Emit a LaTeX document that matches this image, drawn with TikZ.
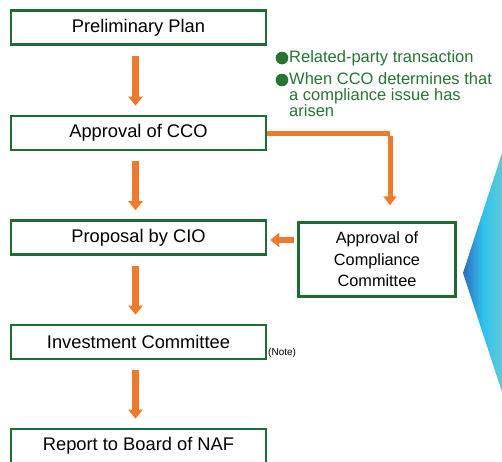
\documentclass[tikz,border=0pt]{standalone}
\usepackage{fontspec}
\setmainfont{Liberation Sans}
\usetikzlibrary{arrows.meta}
\definecolor{boxgreen}{HTML}{1E6B38}
\definecolor{txtgreen}{HTML}{267532}
\definecolor{arrorange}{HTML}{F07A2C}
\definecolor{bluedark}{HTML}{2E6CC0}
\definecolor{bluemid}{HTML}{2EC2EE}
\definecolor{bluelight}{HTML}{62C9D6}
\tikzset{
  stepbox/.style={draw=boxgreen, line width=2.6pt, fill=white, minimum width=255pt, minimum height=34pt, inner sep=0pt, font=\fontsize{18.3}{20}\selectfont},
  oarrow/.style={draw=arrorange, line width=6.5pt, -{Triangle[length=9pt,width=14pt]}},
  oline/.style={draw=arrorange, line width=5pt},
  gtext/.style={text=txtgreen, font=\fontsize{16.5}{16}\selectfont, align=left, anchor=north west, inner sep=0pt},
}
\begin{document}
\begin{tikzpicture}[x=1pt,y=-1pt]
\clip (0,0) rectangle (502,461);
\fill[white] (0,0) rectangle (502,461);
% blue shape
\shade[left color=bluedark, right color=bluelight, middle color=bluemid] (463,273) -- (503,150) -- (503,395) -- cycle;
% boxes
\node[stepbox] (pp) at (138.5,27.5) {Preliminary Plan};
\node[stepbox] (cco) at (138.5,133) {Approval of CCO};
\node[stepbox] (cio) at (138.5,237.5) {Proposal by CIO};
\node[stepbox] (ic) at (138.5,342) {Investment Committee};
\node[stepbox] (naf) at (138.5,446) {Report to Board of NAF};
\node[draw=boxgreen, line width=2.4pt, fill=white, minimum width=157pt, minimum height=74pt, inner sep=0pt, align=center, font=\fontsize{16.3}{21.5}\selectfont] (comp) at (377,259.5) {Approval of\\Compliance\\Committee};
% note
\node[anchor=west, inner sep=0pt, font=\fontsize{10}{11}\selectfont] (note) at (268,353) {(Note)};
% green bullets
\node[gtext] (b1) at (289,50) {Related-party transaction};
\node[gtext] (b2) at (289,72) {When CCO determines that\\a compliance issue has\\arisen};
\fill[txtgreen] (282,58) circle (6.3pt);
\fill[txtgreen] (282,80) circle (6.3pt);
% vertical arrows
\draw[oarrow, shorten <=10pt, shorten >=9pt] ([xshift=-3pt]pp.south) -- ([xshift=-3pt]cco.north);
\draw[oarrow, shorten <=10pt, shorten >=9pt] ([xshift=-3pt]cco.south) -- ([xshift=-3pt]cio.north);
\draw[oarrow, shorten <=10pt, shorten >=9pt] ([xshift=-3pt]cio.south) -- ([xshift=-3pt]ic.north);
\draw[oarrow, shorten <=10pt, shorten >=9pt] ([xshift=-3pt]ic.south) -- ([xshift=-3pt]naf.north);
% elbow
\coordinate (elb) at (390,133);
\draw[oline] (cco.east) -- (elb);
\draw[oline, -{Triangle[length=9pt,width=13pt]}, shorten >=16pt] ([yshift=-2.5pt]elb) -- ([xshift=13pt]comp.north);
% left arrow
\draw[oarrow, line width=6pt, shorten <=3pt, shorten >=3pt] (comp.west |- 0,240) -- (cio.east |- 0,240);
\end{tikzpicture}
\end{document}
